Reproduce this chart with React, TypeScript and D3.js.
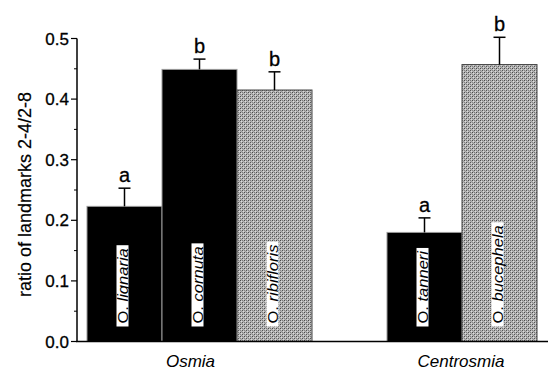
import React, { useEffect, useRef } from "react";
import * as d3 from "d3";

// ---- data ----
const speciesPrefix = ["O.", "O.", "O.", "O.", "O."];
const speciesNames = ["lignaria", "cornuta", "ribifloris", "tanneri", "bucephela"];
const genera = ["Osmia", "Osmia", "Osmia", "Centrosmia", "Centrosmia"];
const meanValues = [0.223, 0.449, 0.415, 0.18, 0.457];
const seValues = [0.03, 0.017, 0.03, 0.024, 0.045];
const letters = ["a", "b", "b", "a", "b"];
const groupNames = ["Osmia", "Centrosmia"];
const yTicks = [0, 0.1, 0.2, 0.3, 0.4, 0.5];
const yLabel = "ratio of landmarks 2-4/2-8";

// ---- styles ----
const barKinds = ["solid", "solid", "dotted", "solid", "dotted"];
const slots = ["s0", "s1", "s2", "gap", "s3", "s4"];
const groupNudge = [-9, -1];

export default function App() {
  const ref = useRef<SVGSVGElement>(null);

  useEffect(() => {
    const svg = d3.select(ref.current);
    svg.selectAll("*").remove();
    const y = d3.scaleLinear().domain([0, 0.5]).range([341.5, 38.5]);
    const x = d3.scaleBand<string>().domain(slots).range([87, 537]).padding(0);
    const barSlot = ["s0", "s1", "s2", "s3", "s4"];

    const defs = svg.append("defs");
    const pat = defs
      .append("pattern")
      .attr("id", "dots")
      .attr("width", 4)
      .attr("height", 4)
      .attr("patternUnits", "userSpaceOnUse");
    pat.append("rect").attr("width", 4).attr("height", 4).attr("fill", "#b8b8b8");
    [
      [0, 0, "#4a4a4a"], [2, 2, "#555"], [2, 0, "#7a7a7a"], [0, 2, "#858585"],
      [1, 3, "#999"], [3, 1, "#a0a0a0"], [1, 1, "#dcdcdc"], [3, 3, "#d8d8d8"],
    ].forEach(([px, py, c]) => {
      pat.append("rect").attr("x", px as number).attr("y", py as number).attr("width", 1).attr("height", 1).attr("fill", c as string);
    });

    const font = "'Liberation Sans', Arial, Helvetica, sans-serif";
    const g = svg.append("g").attr("font-family", font);

    // bars
    meanValues.forEach((v, i) => {
      const x0 = x(barSlot[i])!;
      const bw = x.bandwidth();
      g.append("rect")
        .attr("x", x0)
        .attr("y", y(v))
        .attr("width", bw)
        .attr("height", y(0) - y(v))
        .attr("fill", barKinds[i] === "solid" ? "#000" : "url(#dots)")
        .attr("stroke", barKinds[i] === "solid" ? "#9a9a9a" : "#444")
        .attr("stroke-width", 1);
    });

    // error bars + letters
    meanValues.forEach((v, i) => {
      const cx = x(barSlot[i])! + x.bandwidth() / 2;
      const top = y(v + seValues[i]);
      g.append("line").attr("x1", cx).attr("x2", cx).attr("y1", y(v)).attr("y2", top).attr("stroke", "#000").attr("stroke-width", 1.5);
      g.append("line").attr("x1", cx - 6).attr("x2", cx + 6).attr("y1", top).attr("y2", top).attr("stroke", "#000").attr("stroke-width", 1.5);
      g.append("text")
        .attr("x", cx)
        .attr("y", top - 6)
        .attr("text-anchor", "middle")
        .attr("font-size", 20)
        .attr("stroke", "#000")
        .attr("stroke-width", 0.3)
        .text(letters[i]);
    });

    // bar labels (rotated, with white boxes)
    meanValues.forEach((v, i) => {
      const cx = x(barSlot[i])! + x.bandwidth() / 2 - 2;
      const lg = g.append("g").attr("transform", `translate(${cx},${y(0) - 18}) rotate(-90)`);
      const box = lg.append("rect").attr("fill", "#fff");
      const t = lg
        .append("text")
        .attr("x", 0)
        .attr("y", 0)
        .attr("dy", "0.36em")
        .attr("font-size", 14)
        .attr("fill", "#000");
      t.append("tspan").text(speciesPrefix[i] + " ");
      t.append("tspan").attr("font-style", "italic").text(speciesNames[i]);
      const node = t.node() as SVGTextElement;
      const natural = node.getComputedTextLength();
      const len = natural * 1.18;
      t.attr("textLength", len).attr("lengthAdjust", "spacingAndGlyphs");
      box.attr("x", -3).attr("y", -6).attr("width", len + 6).attr("height", 12);
    });

    // axes
    g.append("line").attr("x1", 77).attr("x2", 77).attr("y1", y(0.5)).attr("y2", y(0)).attr("stroke", "#000").attr("stroke-width", 1.5);
    g.append("line").attr("x1", 76).attr("x2", 548).attr("y1", y(0)).attr("y2", y(0)).attr("stroke", "#000").attr("stroke-width", 1.5);
    yTicks.forEach((t) => {
      g.append("line").attr("x1", 71).attr("x2", 77).attr("y1", y(t)).attr("y2", y(t)).attr("stroke", "#000").attr("stroke-width", 1.2);
      g.append("text")
        .attr("x", 69)
        .attr("y", y(t))
        .attr("dy", "0.36em")
        .attr("text-anchor", "end")
        .attr("font-size", 17)
        .attr("stroke", "#000")
        .attr("stroke-width", 0.3)
        .text(d3.format(".1f")(t));
    });
    d3.range(0.05, 0.5, 0.1).forEach((t) => {
      g.append("line").attr("x1", 74).attr("x2", 77).attr("y1", y(t)).attr("y2", y(t)).attr("stroke", "#000").attr("stroke-width", 1);
    });

    // y label
    g.append("text")
      .attr("transform", `translate(31,${(79 + 310) / 2}) rotate(-90)`)
      .attr("text-anchor", "middle")
      .attr("font-size", 18)
      .attr("stroke", "#000")
      .attr("stroke-width", 0.2)
      .text(yLabel);

    // group labels
    groupNames.forEach((name, gi) => {
      const idx = genera.map((gname, i) => (gname === name ? i : -1)).filter((i) => i >= 0);
      const centers = idx.map((i) => x(barSlot[i])! + x.bandwidth() / 2);
      const cx = d3.mean(centers)! + groupNudge[gi];
      g.append("text")
        .attr("x", cx)
        .attr("y", 367)
        .attr("text-anchor", "middle")
        .attr("font-size", 17)
        .attr("font-style", "italic")
        .text(name);
    });
  }, []);

  return (
    <svg
      ref={ref}
      width={553}
      height={372}
      style={{ position: "absolute", left: 0, top: 0, background: "#fff", display: "block" }}
    />
  );
}
